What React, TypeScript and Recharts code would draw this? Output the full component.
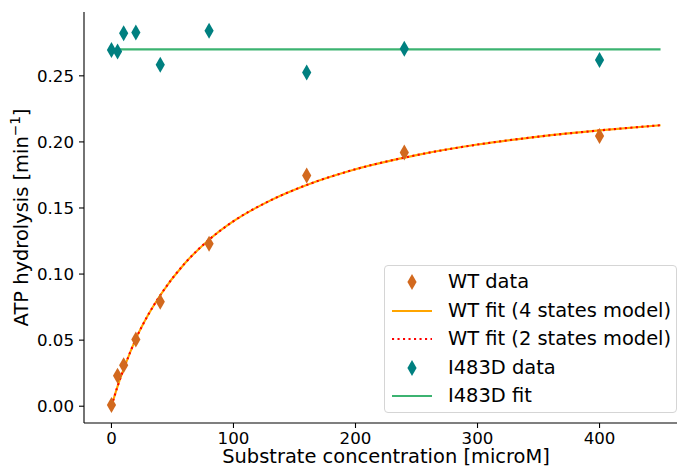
import React from 'react'
import {
  ComposedChart,
  Label,
  Line,
  Scatter,
  XAxis,
  YAxis,
} from 'recharts'

// substrate concentrations of the measurements [microM]
const concentrations = [0, 5, 10, 20, 40, 80, 160, 240, 400]
const wtRates = [0.001, 0.023, 0.031, 0.0505, 0.079, 0.123, 0.1745, 0.192, 0.2045]
const i483dRates = [0.2695, 0.2685, 0.2823, 0.2828, 0.2583, 0.2841, 0.2525, 0.2705, 0.262]

// fitted curves
const fitX = [0, 5, 10, 20, 30, 40, 60, 80, 100, 130, 160, 200, 250, 300, 350, 400, 450]
const wtFit4 = [0, 0.015, 0.028, 0.051, 0.069, 0.084, 0.108, 0.126, 0.14, 0.1556, 0.1674, 0.1793, 0.19, 0.198, 0.204, 0.2087, 0.2126]
const wtFit2 = [0, 0.015, 0.028, 0.051, 0.069, 0.084, 0.108, 0.126, 0.14, 0.1556, 0.1674, 0.1793, 0.19, 0.198, 0.204, 0.2087, 0.2126]
const i483dFitX = [0, 450]
const i483dFitY = [0.27, 0.27]

const xTicks = [0, 100, 200, 300, 400]
const yTicks = [0, 0.05, 0.1, 0.15, 0.2, 0.25]

const seriesNames = [
  'WT data',
  'WT fit (4 states model)',
  'WT fit (2 states model)',
  'I483D data',
  'I483D fit',
]

const COLORS = {
  wt: '#d2691e',
  fit4: '#ffa500',
  fit2: '#ff0000',
  i483d: '#008080',
  i483dFit: '#3cb371',
}

const FONT = "'DejaVu Sans', sans-serif"
const TICK_FS = 16.67
const LABEL_FS = 19.44

const wtData = concentrations.map((x, i) => ({ x, y: wtRates[i] }))
const i483dData = concentrations.map((x, i) => ({ x, y: i483dRates[i] }))
const fit4Data = fitX.map((x, i) => ({ x, y: wtFit4[i] }))
const fit2Data = fitX.map((x, i) => ({ x, y: wtFit2[i] }))
const i483dFitData = i483dFitX.map((x, i) => ({ x, y: i483dFitY[i] }))

const thinDiamond = (color: string) => (props: any) => {
  const { cx, cy } = props
  if (cx == null || cy == null) return <g />
  return (
    <path
      d={`M${cx},${cy - 8} L${cx + 4.6},${cy} L${cx},${cy + 8} L${cx - 4.6},${cy} Z`}
      fill={color}
    />
  )
}

function YLabel(props: any) {
  const { viewBox } = props
  const cy = viewBox.y + viewBox.height / 2
  const x = 28
  return (
    <text
      x={x}
      y={cy}
      transform={`rotate(-90, ${x}, ${cy})`}
      textAnchor="middle"
      fontFamily={FONT}
      fontSize={LABEL_FS}
      fill="#000"
    >
      ATP hydrolysis [min
      <tspan dy={-8} fontSize={LABEL_FS * 0.7}>
        −1
      </tspan>
      <tspan dy={8}>]</tspan>
    </text>
  )
}

function LegendHandle({ i }: { i: number }) {
  if (i === 0 || i === 3) {
    const c = i === 0 ? COLORS.wt : COLORS.i483d
    return (
      <svg width={42} height={20}>
        <path d="M21,2 L25.6,10 L21,18 L16.4,10 Z" fill={c} />
      </svg>
    )
  }
  const c = i === 1 ? COLORS.fit4 : i === 2 ? COLORS.fit2 : COLORS.i483dFit
  return (
    <svg width={42} height={20}>
      <line
        x1={1}
        x2={41}
        y1={10}
        y2={10}
        stroke={c}
        strokeWidth={2.1}
        strokeDasharray={i === 2 ? '2.1 3.4' : undefined}
      />
    </svg>
  )
}

export default function App() {
  return (
    <div
      style={{
        position: 'fixed',
        left: 0,
        top: 0,
        width: 677,
        height: 468,
        overflow: 'hidden',
        background: '#fff',
      }}
    >
      <ComposedChart
        width={700}
        height={468}
        margin={{ top: 12, right: 12, left: 0, bottom: 0 }}
      >
        <XAxis
          xAxisId="top"
          orientation="top"
          type="number"
          dataKey="x"
          domain={[-22.5, 472.5]}
          allowDataOverflow
          tick={false}
          tickLine={false}
          height={0}
          axisLine={{ stroke: '#000', strokeWidth: 1.1 }}
        />
        <XAxis
          type="number"
          dataKey="x"
          domain={[-22.5, 472.5]}
          allowDataOverflow
          ticks={xTicks}
          height={45}
          tickSize={5}
          tickMargin={4}
          axisLine={{ stroke: '#000', strokeWidth: 1.1 }}
          tickLine={{ stroke: '#000', strokeWidth: 1.1 }}
          tick={{ fill: '#000', fontSize: TICK_FS, fontFamily: FONT }}
        >
          <Label
            value="Substrate concentration [microM]"
            position="insideBottom"
            offset={5}
            style={{ fill: '#000', fontSize: LABEL_FS, fontFamily: FONT }}
          />
        </XAxis>
        <YAxis
          type="number"
          dataKey="y"
          domain={[-0.0127, 0.2983]}
          allowDataOverflow
          ticks={yTicks}
          width={84}
          tickSize={5}
          tickMargin={5}
          tickFormatter={(v: number) => v.toFixed(2)}
          axisLine={{ stroke: '#000', strokeWidth: 1.1 }}
          tickLine={{ stroke: '#000', strokeWidth: 1.1 }}
          tick={{ fill: '#000', fontSize: TICK_FS, fontFamily: FONT }}
        >
          <Label content={<YLabel />} />
        </YAxis>
        <Line
          data={i483dFitData}
          dataKey="y"
          type="linear"
          stroke={COLORS.i483dFit}
          strokeWidth={2.1}
          dot={false}
          activeDot={false}
          isAnimationActive={false}
        />
        <Line
          data={fit4Data}
          dataKey="y"
          type="monotone"
          stroke={COLORS.fit4}
          strokeWidth={2.1}
          dot={false}
          activeDot={false}
          isAnimationActive={false}
        />
        <Line
          data={fit2Data}
          dataKey="y"
          type="monotone"
          stroke={COLORS.fit2}
          strokeWidth={2.1}
          strokeDasharray="2.1 3.4"
          dot={false}
          activeDot={false}
          isAnimationActive={false}
        />
        <Scatter
          data={wtData}
          dataKey="y"
          shape={thinDiamond(COLORS.wt)}
          isAnimationActive={false}
        />
        <Scatter
          data={i483dData}
          dataKey="y"
          shape={thinDiamond(COLORS.i483d)}
          isAnimationActive={false}
        />
      </ComposedChart>
      <div
        style={{
          position: 'absolute',
          left: 384,
          top: 265,
          width: 293,
          height: 148,
          border: '1px solid #d5d5d5',
          borderRadius: 4,
          background: 'rgba(255,255,255,0.8)',
          boxSizing: 'border-box',
          fontFamily: FONT,
          fontSize: LABEL_FS,
          color: '#000',
        }}
      >
        {seriesNames.map((name, i) => (
          <div
            key={name}
            style={{
              position: 'absolute',
              left: 6,
              top: 6 + i * 28.5,
              height: 20,
              display: 'flex',
              alignItems: 'center',
              whiteSpace: 'nowrap',
            }}
          >
            <LegendHandle i={i} />
            <span style={{ marginLeft: 15, lineHeight: '20px' }}>{name}</span>
          </div>
        ))}
      </div>
    </div>
  )
}
